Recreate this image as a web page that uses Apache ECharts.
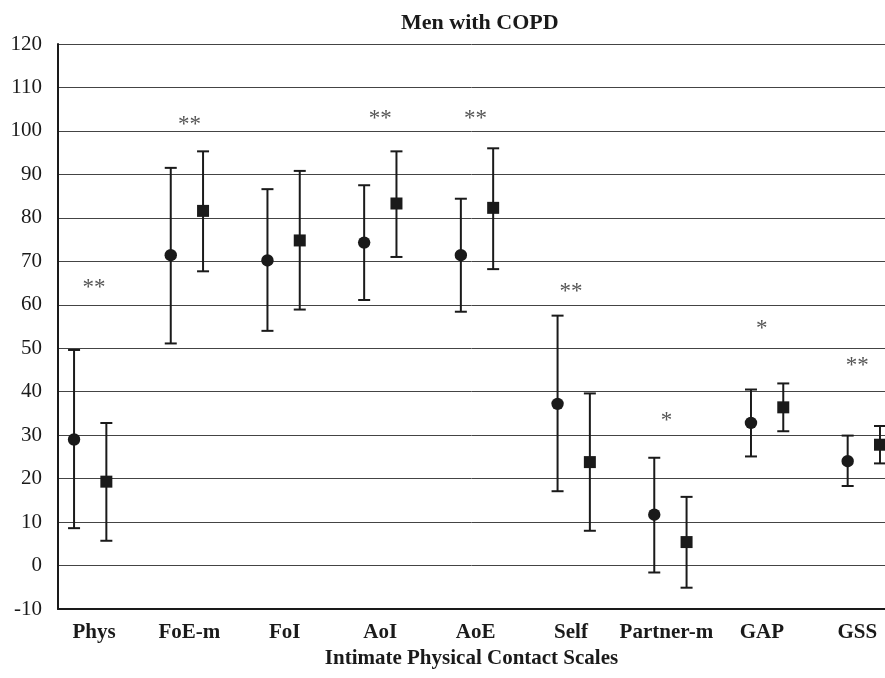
<!DOCTYPE html>
<html>
<head>
<meta charset="utf-8">
<script src="https://cdn.jsdelivr.net/npm/echarts@6/dist/echarts.min.js"></script>
<style>
  html, body { margin: 0; padding: 0; background: #fff; }
  #chart { width: 885px; height: 678px; }
</style>
</head>
<body>
<div id="chart"></div>
<script>
// scales on the category axis
const categories = ['Phys', 'FoE-m', 'FoI', 'AoI', 'AoE', 'Self', 'Partner-m', 'GAP', 'GSS']

// circle group (mean, lower and upper end of the error bar)
const circleMean = [29.0, 71.4, 70.2, 74.3, 71.4, 37.2, 11.7, 32.8, 24.0]
const circleLow = [8.6, 51.1, 54.0, 61.1, 58.4, 17.1, -1.6, 25.1, 18.3]
const circleHigh = [49.6, 91.5, 86.6, 87.5, 84.4, 57.5, 24.8, 40.5, 29.9]

// square group
const squareMean = [19.3, 81.6, 74.8, 83.3, 82.3, 23.8, 5.4, 36.4, 27.8]
const squareLow = [5.7, 67.7, 58.9, 71.0, 68.2, 8.0, -5.1, 30.9, 23.5]
const squareHigh = [32.8, 95.3, 90.8, 95.3, 96.0, 39.6, 15.8, 41.9, 32.1]

// significance marks above each pair
const sigMarks = ['**', '**', '', '**', '**', '**', '*', '*', '**']
const sigY = [64.9, 102.4, null, 103.6, 103.6, 63.8, 34.3, 55.4, 46.8]

const yTicks = { min: -10, max: 120, interval: 10 }

const ink = '#1a1a1a'
const serif = '"Liberation Serif", "Times New Roman", serif'
const pairOffset = 0.167

const chart = echarts.init(document.getElementById('chart'))

// error bar + marker for one group
const makeRender = (shape) => (params, api) => {
  const x = api.value(0)
  const pm = api.coord([x, api.value(1)])
  const plo = api.coord([x, api.value(2)])
  const phi = api.coord([x, api.value(3)])
  const cap = 6
  const lineStyle = { stroke: ink, lineWidth: 2 }
  const children = [
    { type: 'line', shape: { x1: pm[0], y1: plo[1], x2: pm[0], y2: phi[1] }, style: lineStyle },
    { type: 'line', shape: { x1: pm[0] - cap, y1: phi[1], x2: pm[0] + cap, y2: phi[1] }, style: lineStyle },
    { type: 'line', shape: { x1: pm[0] - cap, y1: plo[1], x2: pm[0] + cap, y2: plo[1] }, style: lineStyle }
  ]
  if (shape === 'circle') {
    children.push({ type: 'circle', shape: { cx: pm[0], cy: pm[1], r: 6.2 }, style: { fill: ink } })
  } else {
    children.push({ type: 'rect', shape: { x: pm[0] - 6, y: pm[1] - 6, width: 12, height: 12 }, style: { fill: ink } })
  }
  return { type: 'group', children }
}

const circleData = categories.map((c, i) => [i - pairOffset, circleMean[i], circleLow[i], circleHigh[i]])
const squareData = categories.map((c, i) => [i + pairOffset, squareMean[i], squareLow[i], squareHigh[i]])
const sigData = categories.map((c, i) => [i, sigY[i], sigMarks[i]]).filter(d => d[2])

const option = {
  backgroundColor: '#fff',
  animation: false,
  title: {
    text: 'Men with COPD',
    left: 396,
    top: 7,
    textStyle: { fontFamily: serif, fontWeight: 'bold', fontSize: 22, color: ink }
  },
  grid: { left: 58, right: 0, top: 44, bottom: 69, containLabel: false },
  xAxis: [
    {
      // axis for the markers
      type: 'value',
      show: false,
      min: -0.333,
      max: 8.219
    },
    {
      // axis for the category labels and marks
      type: 'value',
      min: -0.377,
      max: 8.291,
      position: 'bottom',
      name: 'Intimate Physical Contact Scales',
      nameLocation: 'middle',
      nameGap: 32,
      nameTextStyle: { fontFamily: serif, fontWeight: 'bold', fontSize: 21, color: ink },
      axisLine: { show: true, onZero: false, lineStyle: { color: ink, width: 2 } },
      axisTick: { show: false },
      splitLine: { show: false },
      axisLabel: {
        customValues: categories.map((c, i) => i),
        formatter: (v) => categories[Math.round(v)],
        fontFamily: serif,
        fontWeight: 'bold',
        fontSize: 21,
        color: ink,
        margin: 13
      }
    }
  ],
  yAxis: {
    type: 'value',
    min: yTicks.min,
    max: yTicks.max,
    interval: yTicks.interval,
    axisLine: { show: true, onZero: false, lineStyle: { color: ink, width: 2 } },
    axisTick: { show: false },
    splitLine: { lineStyle: { color: '#444', width: 1 } },
    axisLabel: { fontFamily: serif, fontSize: 21, color: ink, margin: 16 }
  },
  series: [
    {
      type: 'custom',
      name: 'circle',
      xAxisIndex: 0,
      data: circleData,
      encode: { x: 0, y: [1, 2, 3] },
      renderItem: makeRender('circle'),
      z: 5
    },
    {
      type: 'custom',
      name: 'square',
      xAxisIndex: 0,
      data: squareData,
      encode: { x: 0, y: [1, 2, 3] },
      renderItem: makeRender('square'),
      z: 5
    },
    {
      type: 'custom',
      name: 'sig',
      xAxisIndex: 1,
      data: sigData,
      encode: { x: 0, y: 1 },
      renderItem: (params, api) => {
        const p = api.coord([api.value(0), api.value(1)])
        return {
          type: 'text',
          style: {
            text: sigMarks[Math.round(api.value(0))],
            x: p[0],
            y: p[1] + 4,
            align: 'center',
            verticalAlign: 'middle',
            font: '23px ' + serif,
            fill: '#555'
          }
        }
      }
    }
  ]
}

chart.setOption(option)
</script>
</body>
</html>
